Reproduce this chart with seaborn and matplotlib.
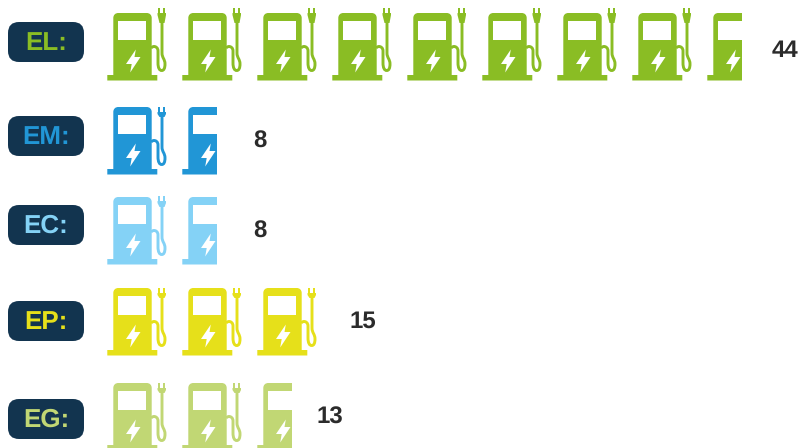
import matplotlib
matplotlib.use("Agg")
import matplotlib.pyplot as plt
import seaborn as sns
from matplotlib.path import Path
from matplotlib.patches import PathPatch, FancyBboxPatch, Rectangle
from matplotlib.transforms import Affine2D

# data
categories = ["EL:", "EM:", "EC:", "EP:", "EG:"]
values = [44, 8, 8, 15, 13]
icon_counts = [8.58, 1.58, 1.58, 3.0, 2.58]
colors = ["#8abd24", "#2196d6", "#84d2f6", "#e6e01a", "#c1d774"]

# layout (pixels)
row_tops = [13, 107, 197, 288, 383]
plug_tops = [-5, 0, -1, 0, 0]
pill_tops = [22, 116, 205, 301, 399]
value_x = [771.5, 253.5, 253.5, 349.5, 316.5]
value_y = [49, 140, 230, 320, 416]
PITCH, ICON_W, X0 = 75, 60, 107
NAVY = "#12344f"
TEXT = "#2b2b2b"

sns.set_theme(style="white")
plt.rcParams["font.family"] = ["Liberation Sans", "DejaVu Sans"]
plt.rcParams["text.hinting"] = "no_hinting"
plt.rcParams["text.hinting_factor"] = 1
fig = plt.figure(figsize=(8, 4.48), dpi=100)
ax = fig.add_axes([0, 0, 1, 1])
ax.set_xlim(0, 800)
ax.set_ylim(448, 0)
ax.axis("off")
sns.despine(ax=ax, left=True, bottom=True)

M, L, C = Path.MOVETO, Path.LINETO, Path.CURVE4
Z = Path.CLOSEPOLY


def poly(pts):
    return Path(pts + [pts[0]], [M] + [L] * (len(pts) - 1) + [Z])


body = Path(
    [(6.3, 62), (6.3, 5), (6.3, 2), (8.3, 0), (11.3, 0), (39.7, 0), (42.7, 0), (44.7, 2), (44.7, 5),
     (44.7, 62), (50.3, 62), (50.3, 67.5), (0.3, 67.5), (0.3, 62), (6.3, 62)],
    [M, L, C, C, C, L, C, C, C, L, L, L, L, L, Z],
)
window = poly([(11.3, 8.5), (39.3, 8.5), (39.3, 27.5), (11.3, 27.5)])
bolt = poly([(28.8, 36.5), (19, 51), (24.7, 51), (23.2, 59.5), (33.5, 44), (27.5, 44)])
hose = Path(
    [(55, 8), (55, 40), (55, 45), (58, 46), (58, 51), (58, 55), (57, 57.5), (54.7, 57.5),
     (52.5, 57.5), (51, 55), (51, 50), (51, 38), (51, 35), (49, 33.5), (47, 33.5),
     (46, 33.5), (45, 34), (44, 35)],
    [M, L, C, C, C, C, C, C, C, C, C, L, C, C, C, C, C, C],
)


def plug_parts(top):
    neck = top + 5
    head = poly([(50.5, neck), (59, neck), (59, neck + 2), (57.5, 10), (52.5, 10), (50.5, neck + 2)])
    left = poly([(51.3, top), (53.3, top), (53.3, neck), (51.3, neck)])
    right = poly([(56, top), (58, top), (58, neck), (56, neck)])
    return [head, left, right]


def draw_icon(x, y, color, frac, plug_top):
    tr = Affine2D().translate(x, y) + ax.transData
    width = frac * ICON_W + 1 if frac < 1 else 90
    clip = Rectangle((x - 1, y - 10), width, 90, transform=ax.transData)
    parts = [
        PathPatch(hose, fill=False, ec=color, lw=2.1),
        PathPatch(body, fc=color, ec="none"),
        PathPatch(window, fc="white", ec="none"),
        PathPatch(bolt, fc="white", ec="none"),
    ] + [PathPatch(p, fc=color, ec="none") for p in plug_parts(plug_top)]
    for p in parts:
        p.set_transform(tr)
        ax.add_patch(p)
        p.set_clip_path(clip)


for r, (cat, val, n, col) in enumerate(zip(categories, values, icon_counts, colors)):
    ax.add_patch(FancyBboxPatch((8 + 11, pill_tops[r] + 11), 76 - 22, 40 - 22,
                                boxstyle="round,pad=11,rounding_size=11",
                                fc=NAVY, ec="none"))
    ax.text(46, pill_tops[r] + 21.5, cat, color=col, fontsize=19, fontweight="bold",
            ha="center", va="center")
    i = 0
    while n - i > 1e-6:
        draw_icon(X0 + i * PITCH, row_tops[r], col, min(1.0, n - i), plug_tops[r])
        i += 1
    ax.text(value_x[r], value_y[r] + 2, str(val), color=TEXT, fontsize=17.5, fontweight="bold",
            ha="left", va="center")

fig.savefig("out.png", dpi=100)
